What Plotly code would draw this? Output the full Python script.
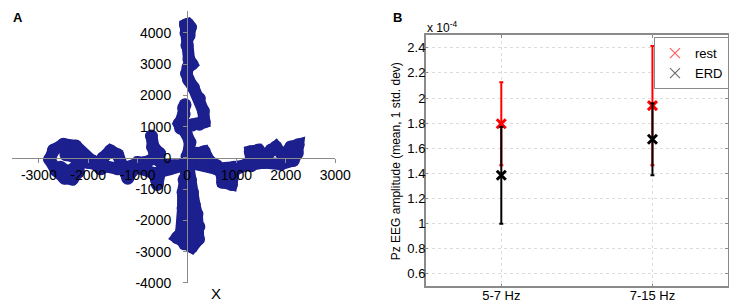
import plotly.graph_objects as go

# ---------------- Panel A data: joystick trajectory (X vs Y) ----------------
trunk_up_x = [0, 40, 60, -20, -130, -160, -100, -60, -70, -40]
trunk_up_y = [-150, 200, 500, 800, 950, 1100, 1250, 1400, 1600, 1700]

top_x = [-100, 100, 250, 350, 330, 250, 130, 30, -10, 20, 100, 40, 0, -20, -30, 20, 70, 40]
top_y = [1000, 1050, 1080, 1150, 1500, 1900, 2250, 2500, 2700, 2900, 3000, 3150, 3600, 4000, 4250, 4280, 4180, 3900]

left_x = [0, -250, -500, -600, -560, -680, -720, -700, -650, -850, -1000, -1100, -1200, -1300,
          -1400, -1550, -1700, -1750, -1900, -2100, -2250, -2500, -2700, -2780, -2650, -2480,
          -2320, -2200, -2180, -2300, -2450]
left_y = [-200, -250, -200, -50, 150, 350, 700, 350, 0, -150, -150, -400, -650, -300,
          100, 230, 0, -350, -100, 100, 380, 440, 250, -50, -400, -650,
          -680, -450, -150, 50, 100]

left_inner_x = [-2560, -2400, -2300]
left_inner_y = [-300, -450, -350]

left_back_x = [-2000, -1700, -1400, -1100, -850, -650, -620, -600, -550, -350, -100]
left_back_y = [-150, -300, -350, -250, -350, -500, -700, -850, -450, -350, -250]

right_x = [0, 200, 350, 450, 600, 700, 720, 900, 950, 1150, 1300, 1280, 1450, 1550, 1700, 1800,
           1950, 2100, 2250, 2230, 2150, 1900, 1550, 1300, 950, 600, 300, 50]
right_y = [50, 150, 200, -100, -250, -500, -780, -850, -400, -250, -100, 200, 250, 0, 250, 350,
           50, 350, 420, 150, -80, -200, -150, -250, -300, -350, -200, -150]

trunk_down_x = [0, -60, -80, -80, -70, -120, -200, -50, 100, 230, 240, 200, 150, 110, 70, 30]
trunk_down_y = [-300, -700, -1100, -1600, -2100, -2400, -2550, -2750, -2850, -2600, -2200, -1800,
                -1500, -1100, -700, -300]

trunk_mid_x = [60, 80, 100]
trunk_mid_y = [-1300, -2000, -2600]

axisA_ticks = [-3000, -2000, -1000, 0, 1000, 2000, 3000]
axisA_yticks = [-4000, -3000, -2000, -1000, 0, 1000, 2000, 3000, 4000]

# ---------------- Panel B data: Pz EEG amplitude (x 1e-4) ----------------
bands = ["5-7 Hz", "7-15 Hz"]
rest_mean = [1.795, 1.94]
rest_std = [0.33, 0.475]
erd_mean = [1.385, 1.672]
erd_std = [0.385, 0.287]
b_yticks = [0.6, 0.8, 1.0, 1.2, 1.4, 1.6, 1.8, 2.0, 2.2, 2.4]
b_yticklabels = ["0.6", "0.8", "1", "1.2", "1.4", "1.6", "1.8", "2", "2.2", "2.4"]

# ---------------- build figure ----------------
W, H = 737, 302
FONT = "Liberation Sans, Arial, sans-serif"
BLUE = "#1C1F8E"
GRAY = "#8a8a8a"


def join(*segs):
    out = []
    for i, s in enumerate(segs):
        if i:
            out.append(None)
        out.extend(s)
    return out


path_x = join(trunk_up_x, top_x, left_x, left_inner_x, left_back_x, right_x, trunk_down_x, trunk_mid_x)
path_y = join(trunk_up_y, top_y, left_y, left_inner_y, left_back_y, right_y, trunk_down_y, trunk_mid_y)

fig = go.Figure()
fig.add_trace(go.Scatter(
    x=path_x, y=path_y, mode="lines+markers", connectgaps=False,
    line=dict(color=BLUE, width=12), marker=dict(color=BLUE, size=13),
    xaxis="x", yaxis="y", showlegend=False, hoverinfo="skip"))

pos = [1, 2]
fig.add_trace(go.Scatter(
    x=pos, y=rest_mean, mode="markers", name="rest", showlegend=False,
    marker=dict(symbol="x-thin", size=9, color="red", line=dict(color="red", width=3)),
    error_y=dict(type="data", array=rest_std, color="red", thickness=2, width=2),
    xaxis="x2", yaxis="y2"))
fig.add_trace(go.Scatter(
    x=pos, y=erd_mean, mode="markers", name="ERD", showlegend=False,
    marker=dict(symbol="x-thin", size=9, color="black", line=dict(color="black", width=3)),
    error_y=dict(type="data", array=erd_std, color="black", thickness=2, width=2),
    xaxis="x2", yaxis="y2"))
# legend entries (thin markers as in the original legend)
for nm, col in [("rest", "rgba(255,40,40,0.75)"), ("ERD", "#6e6e6e")]:
    fig.add_trace(go.Scatter(
        x=[None], y=[None], mode="markers", name=nm,
        marker=dict(symbol="x-thin", size=10, color=col, line=dict(color=col, width=1.2)),
        xaxis="x2", yaxis="y2"))

# Panel A geometry (axes cross at origin)
xA_range = [-3550, 3000]
yA_range = [-4000, 4700]
xA_dom = [3.7 / W, 334.5 / W]
yA_dom = [1 - 282.4 / H, 1 - 3.1 / H]
yaxis_pos = xA_dom[0] + (0 - xA_range[0]) / (xA_range[1] - xA_range[0]) * (xA_dom[1] - xA_dom[0])
xaxis_pos = yA_dom[0] + (0 - yA_range[0]) / (yA_range[1] - yA_range[0]) * (yA_dom[1] - yA_dom[0])

tickfontA = dict(family=FONT, size=14, color="black")
tickfontB = dict(family=FONT, size=13, color="black")
fig.update_layout(
    width=W, height=H, margin=dict(l=0, r=0, t=0, b=0),
    paper_bgcolor="white", plot_bgcolor="white",
    font=dict(family=FONT, size=13, color="black"),
    xaxis=dict(domain=xA_dom, range=xA_range, anchor="free", position=xaxis_pos,
               showline=True, linecolor=GRAY, linewidth=1, ticks="outside", ticklen=4,
               tickcolor=GRAY, tickvals=axisA_ticks, ticktext=[str(v) for v in axisA_ticks],
               tickfont=tickfontA, showgrid=False, zeroline=False, ticklabelstandoff=0),
    yaxis=dict(domain=yA_dom, range=yA_range, anchor="free", position=yaxis_pos,
               showline=True, linecolor=GRAY, linewidth=1, ticks="outside", ticklen=4,
               tickcolor=GRAY, tickvals=axisA_yticks, ticktext=[str(v) for v in axisA_yticks],
               tickfont=tickfontA, showgrid=False, zeroline=False, ticklabelstandoff=9),
    xaxis2=dict(domain=[427 / W, 736 / W], range=[0.5, 2.5], anchor="y2",
                tickvals=pos, ticktext=bands, showline=True, mirror="ticks", linecolor=GRAY,
                linewidth=1.5, ticks="inside", ticklen=3, tickcolor=GRAY, showgrid=True,
                gridcolor="#dcdcdc", griddash="dot", zeroline=False, ticklabelstandoff=-4,
                tickfont=tickfontB),
    yaxis2=dict(domain=[1 - 286 / H, 1 - 28 / H], range=[0.5, 2.5], anchor="x2",
                tickvals=b_yticks, ticktext=b_yticklabels, showline=True, mirror="ticks",
                linecolor=GRAY, linewidth=1.5, ticks="inside", ticklen=3, tickcolor=GRAY,
                showgrid=True, gridcolor="#dcdcdc", griddash="dot", zeroline=False,
                ticklabelstandoff=-4, tickfont=tickfontB),
    legend=dict(x=737 / W, y=1 - 30 / H, xanchor="right", yanchor="top",
                bordercolor=GRAY, borderwidth=1, bgcolor="white",
                font=dict(family=FONT, size=13, color="black"), itemwidth=30,
                tracegroupgap=0),
    annotations=[
        dict(text="<b>A</b>", x=0.004, y=1.0, xref="paper", yref="paper",
             xanchor="left", yanchor="top", showarrow=False, font=dict(size=13)),
        dict(text="<b>B</b>", x=392 / W, y=1.0, xref="paper", yref="paper",
             xanchor="left", yanchor="top", showarrow=False, font=dict(size=13)),
        dict(text="X", x=213 / W, y=1 - 293 / H, xref="paper", yref="paper",
             xanchor="center", yanchor="middle", showarrow=False, font=dict(size=15)),
        dict(text="x 10<sup>-4</sup>", x=426 / W, y=1 - 20 / H, xref="paper", yref="paper",
             xanchor="left", yanchor="middle", showarrow=False, font=dict(size=12)),
        dict(text="Pz EEG amplitude (mean, 1 std. dev)", x=396 / W, y=1 - 157 / H,
             xref="paper", yref="paper", xanchor="center", yanchor="middle",
             textangle=-90, showarrow=False, font=dict(size=12)),
    ],
)

fig.write_html("out.html")
